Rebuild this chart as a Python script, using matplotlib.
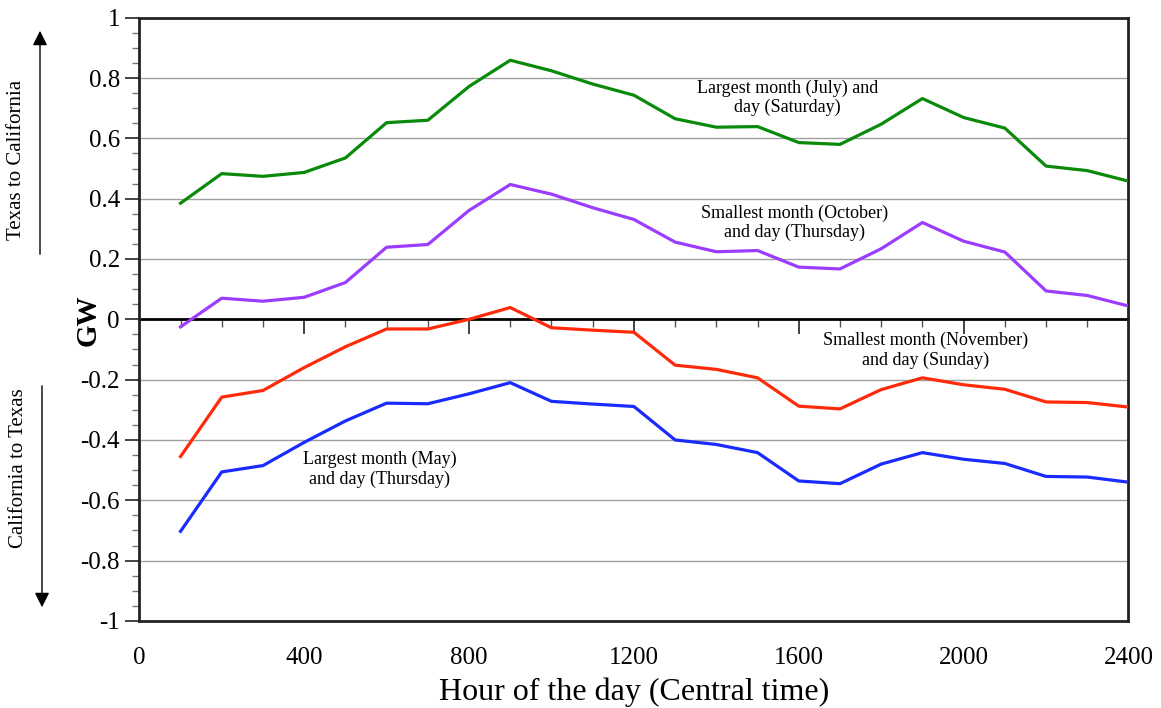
import matplotlib
matplotlib.use("Agg")
import matplotlib.pyplot as plt
from matplotlib.ticker import MultipleLocator, FixedLocator

plt.rcParams['font.family'] = ['Liberation Serif', 'DejaVu Serif']

# hourly flows, GW (positive = Texas to California)
hours = [100, 200, 300, 400, 500, 600, 700, 800, 900, 1000, 1100, 1200,
         1300, 1400, 1500, 1600, 1700, 1800, 1900, 2000, 2100, 2200, 2300, 2400]
july_sat = [0.385, 0.483, 0.474, 0.487, 0.535, 0.652, 0.660, 0.772, 0.859, 0.824, 0.780, 0.743,
            0.665, 0.637, 0.639, 0.586, 0.580, 0.647, 0.732, 0.669, 0.634, 0.508, 0.493, 0.458]
oct_thu = [-0.025, 0.070, 0.060, 0.073, 0.122, 0.239, 0.248, 0.361, 0.447, 0.415, 0.370, 0.331,
           0.256, 0.224, 0.228, 0.173, 0.167, 0.234, 0.321, 0.259, 0.223, 0.094, 0.079, 0.044]
nov_sun = [-0.455, -0.258, -0.236, -0.160, -0.091, -0.032, -0.032, 0.000, 0.039, -0.028, -0.036, -0.043,
           -0.152, -0.166, -0.194, -0.288, -0.297, -0.233, -0.194, -0.217, -0.232, -0.274, -0.276, -0.291]
may_thu = [-0.703, -0.506, -0.485, -0.408, -0.337, -0.278, -0.280, -0.247, -0.210, -0.272, -0.281, -0.289,
           -0.400, -0.415, -0.442, -0.536, -0.545, -0.480, -0.442, -0.464, -0.478, -0.521, -0.523, -0.540]

fig = plt.figure(figsize=(11.61, 7.08), dpi=100)
ax = fig.add_axes([0.12, 0.123, 0.852, 0.852])

ax.set_xlim(0, 2400)
ax.set_ylim(-1, 1)

for v in [-0.8, -0.6, -0.4, -0.2, 0.2, 0.4, 0.6, 0.8]:
    ax.axhline(v, color='#a0a0a0', lw=1, zorder=1)

ax.plot(hours, july_sat, color='#0a8a0a', lw=2.3, zorder=3)
ax.plot(hours, oct_thu, color='#9b3cff', lw=2.3, zorder=3)
ax.plot(hours, nov_sun, color='#ff2a0a', lw=2.3, zorder=3)
ax.plot(hours, may_thu, color='#1a2bff', lw=2.3, zorder=3)

for s in ax.spines.values():
    s.set_linewidth(2)
    s.set_color('#222222')

yt = [-1, -0.8, -0.6, -0.4, -0.2, 0, 0.2, 0.4, 0.6, 0.8, 1]
ax.set_yticks(yt)
ax.set_yticklabels(['-1', '-0.8', '-0.6', '-0.4', '-0.2', '0', '0.2', '0.4', '0.6', '0.8', '1'])
ax.yaxis.set_minor_locator(MultipleLocator(0.05))
ax.tick_params(axis='y', which='major', direction='out', length=10, width=1.2,
               color='#222222', labelsize=18, pad=4)
ax.tick_params(axis='y', which='minor', direction='out', length=5, width=1,
               color='#777777')

ax.set_xticks(range(0, 2401, 400))
ax.tick_params(axis='x', which='both', length=0, labelsize=18, pad=19)
ax.set_xlabel('Hour of the day (Central time)', fontsize=23, labelpad=6)

# zero line with its own hour ticks pointing down
zero = ax.secondary_xaxis(0.5)
zero.set_alignment('bottom')
zero.spines['bottom'].set_linewidth(2)
zero.spines['bottom'].set_color('black')
zero.xaxis.set_major_locator(FixedLocator([400, 800, 1200, 1600, 2000]))
zero.xaxis.set_minor_locator(FixedLocator([h for h in range(100, 2400, 100) if h % 400]))
zero.tick_params(which='major', direction='out', length=11, width=1.2, color='#222222',
                 labelbottom=False, labeltop=False)
zero.tick_params(which='minor', direction='out', length=6, width=1, color='#555555')

fs = 13
ax.text(1573, 0.734, 'Largest month (July) and\nday (Saturday)', ha='center', va='center',
        fontsize=fs, linespacing=1.15, zorder=4)
ax.text(1590, 0.319, 'Smallest month (October)\nand day (Thursday)', ha='center', va='center',
        fontsize=fs, linespacing=1.15, zorder=4)
ax.text(1907, -0.103, 'Smallest month (November)\nand day (Sunday)', ha='center', va='center',
        fontsize=fs, linespacing=1.15, zorder=4)
ax.text(583, -0.497, 'Largest month (May)\nand day (Thursday)', ha='center', va='center',
        fontsize=fs, linespacing=1.15, zorder=4)

fig.text(88 / 1161, 1 - 320 / 708, 'GW', rotation=90, ha='center', va='center',
         fontsize=21, fontweight='bold')

# direction arrows and labels on the left
ax.annotate('', xy=(40 / 1161, 1 - 28 / 708), xytext=(40 / 1161, 1 - 257 / 708),
            xycoords='figure fraction', textcoords='figure fraction',
            arrowprops=dict(arrowstyle='-|>', color='black', lw=1, mutation_scale=22))
ax.annotate('', xy=(42 / 1161, 1 - 610 / 708), xytext=(42 / 1161, 1 - 383 / 708),
            xycoords='figure fraction', textcoords='figure fraction',
            arrowprops=dict(arrowstyle='-|>', color='black', lw=1, mutation_scale=22))
fig.text(17 / 1161, 1 - 160 / 708, 'Texas to California', rotation=90, ha='center',
         va='center', fontsize=15)
fig.text(19 / 1161, 1 - 468 / 708, 'California to Texas', rotation=90, ha='center',
         va='center', fontsize=15)

fig.savefig('out.png', dpi=100)
